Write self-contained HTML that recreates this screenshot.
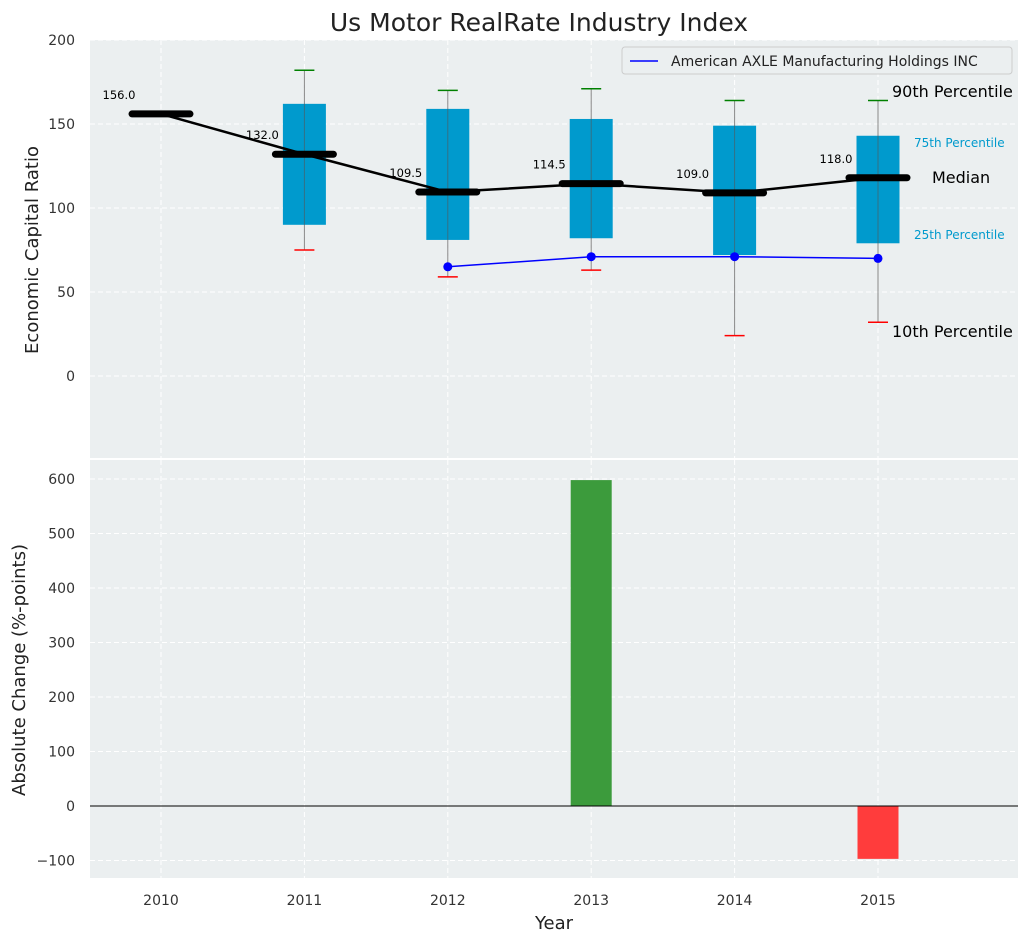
<!DOCTYPE html>
<html><head><meta charset="utf-8"><style>
body{margin:0;background:#fff;font-family:"Liberation Sans","DejaVu Sans",sans-serif}
svg text{font-family:"DejaVu Sans","Liberation Sans",sans-serif}
</style></head><body>
<svg id="c" width="1029" height="942" xmlns="http://www.w3.org/2000/svg"></svg>
<script>
const years=[2010,2011,2012,2013,2014,2015];
const medians=[156,132,109.5,114.5,109,118];
const q1=[null,90,81,82,72,79];
const q3=[null,162,159,153,149,143];
const p10=[null,75,59,63,24,32];
const p90=[null,182,170,171,164,164];
const companyYears=[2012,2013,2014,2015];
const companyVals=[65,71,71,70];
const changeYears=[2013,2015];
const changeVals=[598,-97];
const topTicks=[0,50,100,150,200];
const botTicks=[-100,0,100,200,300,400,500,600];

const NS="http://www.w3.org/2000/svg";
const svg=document.getElementById('c');
function el(t,a,txt){const e=document.createElementNS(NS,t);for(const k in a)e.setAttribute(k,a[k]);if(txt!==undefined)e.textContent=txt;svg.appendChild(e);return e;}
const L=90,R=1018;
const x=v=>161+(v-2010)*143.4;
const yT=v=>376-v*1.68;
const yB=v=>806-v*0.545;

let e=el('text',{x:539,y:31,'font-size':25,'text-anchor':'middle',fill:'#222'},'Us Motor RealRate Industry Index');

e=el('rect',{x:L,y:40,width:R-L,height:418,fill:'#ebeff0'});

e=el('rect',{x:L,y:460,width:R-L,height:418,fill:'#ebeff0'});

// grids
years.forEach(y=>{
 el('line',{x1:x(y),x2:x(y),y1:40,y2:458,stroke:'#fff','stroke-dasharray':'5,3'});
 el('line',{x1:x(y),x2:x(y),y1:460,y2:878,stroke:'#fff','stroke-dasharray':'5,3'});
 e=el('text',{x:x(y),y:905,'font-size':14,'text-anchor':'middle',fill:'#333'},y);
 
});
topTicks.forEach(t=>{
 el('line',{x1:L,x2:R,y1:yT(t),y2:yT(t),stroke:'#fff','stroke-dasharray':'5,3'});
 e=el('text',{x:75,y:yT(t)+5,'font-size':14,'text-anchor':'end',fill:'#333'},t);
 
});
botTicks.forEach(t=>{
 el('line',{x1:L,x2:R,y1:yB(t),y2:yB(t),stroke:'#fff','stroke-dasharray':'5,3'});
 e=el('text',{x:75,y:yB(t)+5,'font-size':14,'text-anchor':'end',fill:'#333'},t<0?'\u2212'+(-t):t);
 
});
// boxes
years.forEach((y,i)=>{
 if(q1[i]===null)return;
 e=el('line',{x1:x(y),x2:x(y),y1:yT(p90[i]),y2:yT(p10[i]),stroke:'#888','stroke-width':1});
 
 e=el('rect',{x:x(y)-21.5,y:yT(q3[i]),width:43,height:yT(q1[i])-yT(q3[i]),fill:'#009ACD'});
 
 el('line',{x1:x(y),x2:x(y),y1:yT(q3[i]),y2:yT(q1[i]),stroke:'#555','stroke-width':1,opacity:0.6});
 e=el('line',{x1:x(y)-10,x2:x(y)+10,y1:yT(p90[i]),y2:yT(p90[i]),stroke:'green','stroke-width':1.5});
 
 e=el('line',{x1:x(y)-10,x2:x(y)+10,y1:yT(p10[i]),y2:yT(p10[i]),stroke:'red','stroke-width':1.5});
 
});
// median line
e=el('polyline',{points:years.map((y,i)=>x(y)+','+yT(medians[i])).join(' '),fill:'none',stroke:'#000','stroke-width':2.5});

years.forEach((y,i)=>{
 e=el('line',{x1:x(y)-29,x2:x(y)+29,y1:yT(medians[i]),y2:yT(medians[i]),stroke:'#000','stroke-width':7,'stroke-linecap':'round'});
 
 e=el('text',{x:x(y)-42,y:yT(medians[i])-15,'font-size':11.5,'text-anchor':'middle',fill:'#000'},medians[i].toFixed(1));
 
});
// company
e=el('polyline',{points:companyYears.map((y,i)=>x(y)+','+yT(companyVals[i])).join(' '),fill:'none',stroke:'blue','stroke-width':1.5});

companyYears.forEach((y,i)=>{
 e=el('circle',{cx:x(y),cy:yT(companyVals[i]),r:4.5,fill:'blue'});
 
});
// annotations
const ann=[[892,97,16,'#000','90th Percentile','p90-annotation'],[914,147,12,'#009ACD','75th Percentile','p75-annotation'],[932,183,16,'#000','Median','median-annotation'],[914,239,12,'#009ACD','25th Percentile','p25-annotation'],[892,337,16,'#000','10th Percentile','p10-annotation']];
ann.forEach(a=>{e=el('text',{x:a[0],y:a[1],'font-size':a[2],fill:a[3]},a[4]);});
// legend
e=el('rect',{x:622,y:47,width:390,height:27,fill:'#ebeff0',stroke:'#ccc',rx:3});

el('line',{x1:630,x2:658,y1:61,y2:61,stroke:'blue','stroke-width':1.5});
e=el('text',{x:671,y:66,'font-size':14,fill:'#222'},'American AXLE Manufacturing Holdings INC');

// bars
changeYears.forEach((y,i)=>{
 const v=changeVals[i];
 e=el('rect',{x:x(y)-20.5,y:Math.min(yB(v),yB(0)),width:41,height:Math.abs(yB(v)-yB(0)),fill:v>=0?'#3c9b3c':'#ff3c3c'});
 
});
el('line',{x1:L,x2:R,y1:yB(0),y2:yB(0),stroke:'#000','stroke-width':1});
// axis titles
e=el('text',{x:0,y:0,'font-size':18,'text-anchor':'middle',fill:'#222',transform:'translate(38,250) rotate(-90)'},'Economic Capital Ratio');

e=el('text',{x:0,y:0,'font-size':18,'text-anchor':'middle',fill:'#222',transform:'translate(25,670) rotate(-90)'},'Absolute Change (%-points)');

e=el('text',{x:554,y:929,'font-size':18,'text-anchor':'middle',fill:'#222'},'Year');

</script>
</body></html>
